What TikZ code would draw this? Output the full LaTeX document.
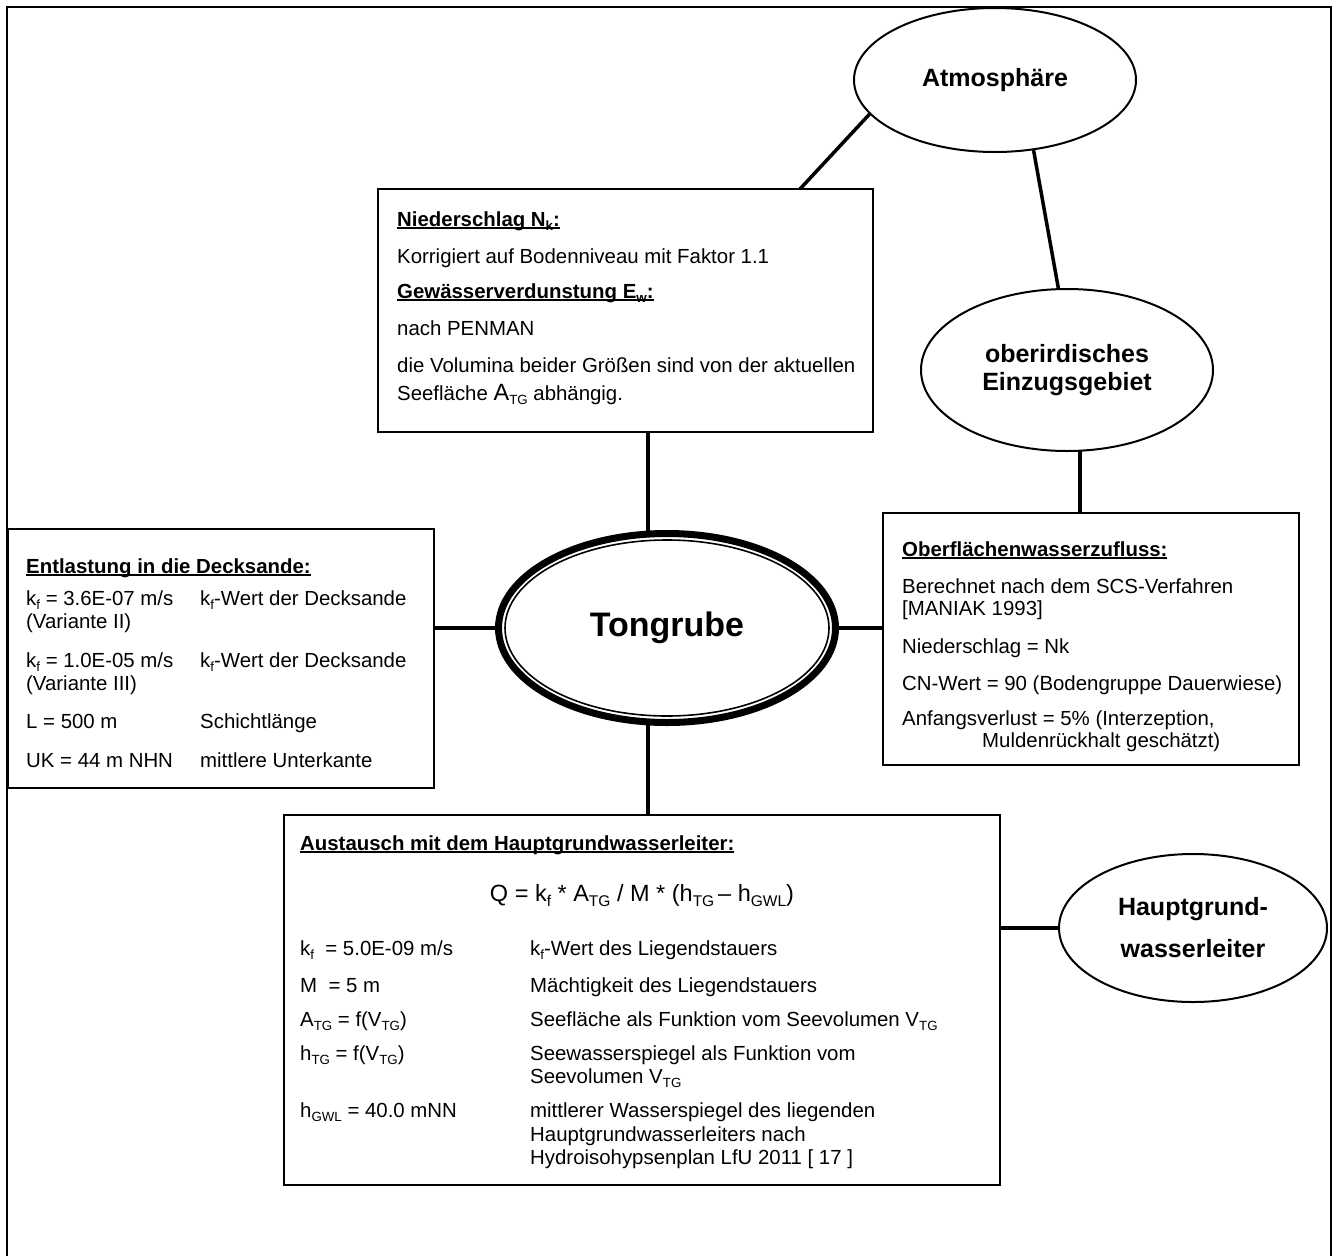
\documentclass[tikz,border=0pt]{standalone}
\usepackage{fontspec}
\setmainfont{Liberation Sans}
\usetikzlibrary{shapes.geometric}
\newcommand\sbx[1]{\raisebox{-0.22em}{\fontsize{13.3}{13.3}\selectfont #1}}
\newcommand\sbf[1]{\raisebox{-0.22em}{\fontsize{15.5}{15.5}\selectfont #1}}
\newcommand\ulx[1]{\setbox0=\hbox{#1}\rlap{\rule[-3.2pt]{\wd0}{1.8pt}}\box0}
\begin{document}
\begin{tikzpicture}[x=1pt,y=-1pt,
  txt/.style={anchor=base west, inner sep=0pt, font=\fontsize{20.4}{24}\selectfont},
  htxt/.style={anchor=base west, inner sep=0pt, font=\fontsize{20.4}{24}\selectfont\bfseries},
  boxn/.style={draw, line width=2pt, anchor=north west, inner sep=0pt, outer sep=0pt, fill=white},
  elln/.style={ellipse, draw, line width=2pt, inner sep=0pt, outer sep=0pt, align=center, font=\fontsize{25}{28}\selectfont\bfseries},
  conn/.style={line width=3.5pt},
  frame/.style={line width=2.5pt}]
\useasboundingbox (0,0) rectangle (1339,1256);
\draw[frame] (7,1256) -- (7,7) -- (1331,7) -- (1331,1256);

% boxes
\node[boxn, minimum width=495pt, minimum height=243pt] (nb) at (378,189) {};
\node[boxn, minimum width=426pt, minimum height=259pt] (ent) at (8,529) {};
\node[boxn, minimum width=416pt, minimum height=252pt] (ob) at (883,513) {};
\node[boxn, minimum width=716pt, minimum height=370pt] (aus) at (284,815) {};

% ellipses
\node[elln, minimum width=282pt, minimum height=144pt] (atm) at (995,80) {Atmosphäre};
\node[elln, minimum width=292pt, minimum height=162pt] (ober) at (1067,370) {oberirdisches\\Einzugsgebiet};
\node[elln, minimum width=268pt, minimum height=148pt, font=\fontsize{25}{42}\selectfont\bfseries] (hgw) at (1193,928) {Hauptgrund-\\wasserleiter};
\node[ellipse, draw, line width=7pt, minimum width=337pt, minimum height=189pt, inner sep=0pt, outer sep=0pt, font=\fontsize{34}{40}\selectfont\bfseries] (tong) at (667,628) {Tongrube};
\draw[line width=1.6pt] (tong.center) ellipse [x radius=162pt, y radius=88pt];

% connectors
\coordinate (c800) at (800,0);
\coordinate (c648) at (648,0);
\coordinate (c1080) at (1080,0);
\draw[conn] (atm.195) -- (nb.north -| c800);
\draw[conn] (atm.299) -- (ober.96);
\draw[conn] (ober.south -| c1080) -- (ob.north -| c1080);
\draw[conn] (nb.south -| c648) -- (tong.north -| c648);
\draw[conn] (tong.south -| c648) -- (aus.north -| c648);
\draw[conn] (tong.west) -- (tong.west -| ent.east);
\draw[conn] (tong.east) -- (tong.east -| ob.west);
\draw[conn] (aus.east |- hgw.west) -- (hgw.west);

% Niederschlag box text
\node[htxt] (n1) at (397,226) {\ulx{Niederschlag N\sbx{k}:}};
\node[txt] (n2) at (397,263) {Korrigiert auf Bodenniveau mit Faktor 1.1};
\node[htxt] (n3) at (397,298) {\ulx{Gewässerverdunstung E\sbx{w}:}};
\node[txt] (n4) at (397,335) {nach PENMAN};
\node[txt] (n5) at (397,372) {die Volumina beider Größen sind von der aktuellen};
\node[txt] (n6) at (397,400) {Seefläche {\fontsize{23.5}{24}\selectfont A}\sbx{TG} abhängig.};

% Entlastung box text
\node[htxt] (e1) at (26,573) {\ulx{Entlastung in die Decksande:}};
\node[txt] (e2) at (26,605) {k\sbx{f} = 3.6E-07 m/s};
\node[txt] (e3) at (200,605) {k\sbx{f}-Wert der Decksande};
\node[txt] (e4) at (26,628) {(Variante II)};
\node[txt] (e5) at (26,667) {k\sbx{f} = 1.0E-05 m/s};
\node[txt] (e6) at (200,667) {k\sbx{f}-Wert der Decksande};
\node[txt] (e7) at (26,690) {(Variante III)};
\node[txt] (e8) at (26,728) {L = 500 m};
\node[txt] (e9) at (200,728) {Schichtlänge};
\node[txt] (e10) at (26,767) {UK = 44 m NHN};
\node[txt] (e11) at (200,767) {mittlere Unterkante};

% Oberflaechen box text
\node[htxt] (o1) at (902,556) {\ulx{Oberflächenwasserzufluss:}};
\node[txt] (o2) at (902,593) {Berechnet nach dem SCS-Verfahren};
\node[txt] (o3) at (902,615) {[MANIAK 1993]};
\node[txt] (o4) at (902,653) {Niederschlag = Nk};
\node[txt] (o5) at (902,690) {CN-Wert = 90 (Bodengruppe Dauerwiese)};
\node[txt] (o6) at (902,725) {Anfangsverlust = 5\% (Interzeption,};
\node[txt] (o7) at (982,747) {Muldenrückhalt geschätzt)};

% Austausch box text
\node[htxt] (a1) at (300,850) {\ulx{Austausch mit dem Hauptgrundwasserleiter:}};
\node[anchor=base, inner sep=0pt, font=\fontsize{23.5}{26}\selectfont] (a2) at (642,901) {Q = k\sbf{f} * A\sbf{TG} / M * (h\sbf{TG}\,– h\sbf{GWL})};
\node[txt] (a3) at (300,955) {k\sbx{f}\ \ = 5.0E-09 m/s};
\node[txt] (a4) at (530,955) {k\sbx{f}-Wert des Liegendstauers};
\node[txt] (a5) at (300,992) {M\ \ = 5 m};
\node[txt] (a6) at (530,992) {Mächtigkeit des Liegendstauers};
\node[txt] (a7) at (300,1026) {A\sbx{TG} = f(V\sbx{TG})};
\node[txt] (a8) at (530,1026) {Seefläche als Funktion vom Seevolumen V\sbx{TG}};
\node[txt] (a9) at (300,1060) {h\sbx{TG} = f(V\sbx{TG})};
\node[txt] (a10) at (530,1060) {Seewasserspiegel als Funktion vom};
\node[txt] (a11) at (530,1083) {Seevolumen V\sbx{TG}};
\node[txt] (a12) at (300,1117) {h\sbx{GWL} = 40.0 mNN};
\node[txt] (a13) at (530,1117) {mittlerer Wasserspiegel des liegenden};
\node[txt] (a14) at (530,1141) {Hauptgrundwasserleiters nach};
\node[txt] (a15) at (530,1164) {Hydroisohypsenplan LfU 2011 [ 17 ]};
\end{tikzpicture}
\end{document}
